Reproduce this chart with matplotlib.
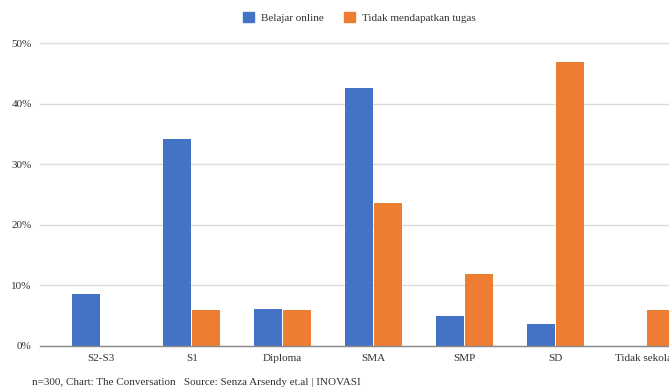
import matplotlib
matplotlib.use("Agg")
import matplotlib.pyplot as plt
import numpy as np
from matplotlib.patches import Rectangle

categories = ["S2-S3", "S1", "Diploma", "SMA", "SMP", "SD", "Tidak sekolah"]
belajar_online = [8.6, 34.1, 6.1, 42.6, 4.9, 3.6, 0.0]
tidak_tugas = [0.0, 5.8, 5.8, 23.5, 11.8, 46.9, 5.8]
series_names = ["Belajar online", "Tidak mendapatkan tugas"]
y_ticks = [0, 10, 20, 30, 40, 50]
footer = "n=300, Chart: The Conversation   Source: Senza Arsendy et.al | INOVASI"

blue = "#4472C4"
orange = "#ED7D31"

plt.rcParams["font.family"] = ["Liberation Serif", "DejaVu Serif"]

fig = plt.figure(figsize=(6.69, 3.90), dpi=100)
ax = fig.add_axes([0.0598, 0.114, 0.9402, 0.7757])

x = np.arange(len(categories))
w = 0.31
ax.bar(x - w / 2 - 0.005, belajar_online, width=w, color=blue, zorder=3)
ax.bar(x + w / 2 + 0.005, tidak_tugas, width=w, color=orange, zorder=3)

ax.set_xlim(-0.67, 6.25)
ax.set_ylim(0, 50)
ax.set_yticks(y_ticks)
ax.set_yticklabels([f"{t}%" for t in y_ticks])
ax.set_xticks(x)
ax.set_xticklabels(categories)
ax.tick_params(axis="both", length=0, labelsize=8, colors="#333333")
ax.tick_params(axis="x", pad=6)
ax.tick_params(axis="y", pad=6)
ax.yaxis.grid(True, color="#dcdcdc", linewidth=1.0, zorder=0)
for s in ["top", "right", "left"]:
    ax.spines[s].set_visible(False)
ax.spines["bottom"].set_color("#8a8a8a")
ax.spines["bottom"].set_linewidth(1.0)
ax.spines["bottom"].set_zorder(4)
for gl in ax.get_ygridlines():
    gl.set_clip_on(False)

# legend drawn at the top centre
handles = [Rectangle((0, 0), 1, 1, color=blue), Rectangle((0, 0), 1, 1, color=orange)]
fig.legend(handles, series_names, loc="center", bbox_to_anchor=(0.537, 0.955),
           ncol=2, frameon=False, fontsize=8, handlelength=1.0, handleheight=1.0,
           handletextpad=0.6, columnspacing=1.8, labelcolor="#333333")

fig.text(0.048, 0.0205, footer, fontsize=8, color="#333333", ha="left", va="center")

fig.savefig("out.png", dpi=100, facecolor="white")
